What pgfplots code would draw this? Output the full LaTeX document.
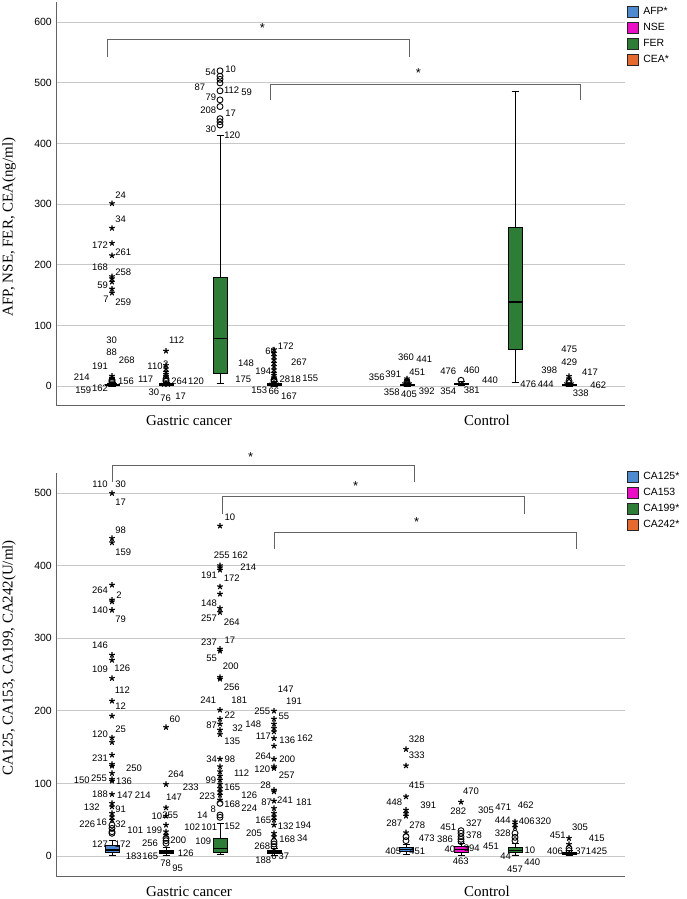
\documentclass[border=0pt]{standalone}
\usepackage{fontspec}
\setmainfont{Liberation Sans}
\newfontfamily\seriffont{Liberation Serif}
\usepackage{pgfplots}
\pgfplotsset{compat=1.18}
\usepgfplotslibrary{statistics}
\definecolor{afp}{RGB}{76,139,208}
\definecolor{nse}{RGB}{238,12,200}
\definecolor{fer}{RGB}{46,125,55}
\definecolor{cea}{RGB}{232,105,44}
\definecolor{axgray}{RGB}{100,100,100}
\definecolor{gridgray}{RGB}{200,200,200}
\pgfplotsset{
 panel/.style={scale only axis, width=569bp, height=403bp, xmin=56, xmax=625, clip=false,
   axis x line*=bottom, axis y line*=left, axis line style={axgray, line width=0.9pt},
   ymajorgrids, grid style={gridgray, line width=0.9pt}, major tick length=0pt,
   xtick={189,487}, xticklabels={Gastric cancer, Control},
   xticklabel style={font=\seriffont\fontsize{15}{18}\selectfont, inner sep=0pt, yshift=-10bp},
   yticklabel style={font=\fontsize{10.5}{12}\selectfont, inner sep=0pt, xshift=-4bp},
   /pgf/number format/assume math mode=true,
   legend cell align=left,
   legend style={draw=none, fill=none, inner sep=0pt, row sep=0pt, font=\fontsize{10.5}{12}\selectfont,
     nodes={inner sep=0pt, minimum height=16bp}, /tikz/every odd column/.append style={column sep=4.5bp}},
   boxplot/draw direction=y,
   boxplot/every median/.style={line width=1.4pt},
 },
 bx/.style={draw=black, line width=0.7pt, forget plot},
 st/.style={only marks, mark=star, mark size=2.9pt, mark options={line width=1.15pt, draw=black}, black, forget plot},
 ci/.style={only marks, mark=o, mark size=3pt, mark options={line width=0.9pt, draw=black, fill=white}, black, forget plot},
}
\tikzset{lab/.style={font=\fontsize{9.5}{11}\selectfont, inner sep=0pt},
 ast/.style={font=\fontsize{13}{14}\selectfont, inner sep=0pt, yshift=-3bp}}
\newcommand\LA[3]{\node[lab] at ({(#1/3)*1bp},{(899-#2/3)*1bp}) {#3};}
\newcommand\LB[3]{\node[lab] at ({(330+#1/3)*1bp},{(899-#2/3)*1bp}) {#3};}
\newcommand\LC[3]{\node[lab] at ({(#1/3)*1bp},{(479-#2/3)*1bp}) {#3};}
\newcommand\LD[3]{\node[lab] at ({(330+#1/3)*1bp},{(479-#2/3)*1bp}) {#3};}
\newcommand\BP[7]{\addplot[boxplot prepared={draw position=#1, lower whisker=#2, lower quartile=#3, median=#4, upper quartile=#5, upper whisker=#6, box extend=14, whisker extend=7}, bx, fill=#7] coordinates {};}
\begin{document}
\begin{tikzpicture}
\path[use as bounding box] (0,0) rectangle (687bp,899bp);
% ---------------- top panel
\begin{axis}[panel, at={(56bp,494bp)}, anchor=south west, ymin=-31.3, ymax=633.5, ytick={0,100,...,600},
  legend style={at={(1.0035,0.996)}, anchor=north west}]
\addlegendimage{legend image code/.code={\draw[fill=afp,draw=black!85,line width=0.6pt] (0bp,-5.5bp) rectangle (11bp,5.5bp);}}
\addlegendentry{AFP*}
\addlegendimage{legend image code/.code={\draw[fill=nse,draw=black!85,line width=0.6pt] (0bp,-5.5bp) rectangle (11bp,5.5bp);}}
\addlegendentry{NSE}
\addlegendimage{legend image code/.code={\draw[fill=fer,draw=black!85,line width=0.6pt] (0bp,-5.5bp) rectangle (11bp,5.5bp);}}
\addlegendentry{FER}
\addlegendimage{legend image code/.code={\draw[fill=cea,draw=black!85,line width=0.6pt] (0bp,-5.5bp) rectangle (11bp,5.5bp);}}
\addlegendentry{CEA*}
% gastric
\BP{112}{0}{1}{2}{3.5}{6}{afp}
\addplot[ci] coordinates {(112,10.5)(112,8.3)(112,6.6)};
\addplot[st] coordinates {(112,301.1)(112,260.4)(112,235.6)(112,215.2)(112,180.6)(112,177.2)(112,171.7)(112,160.2)(112,153.6)(112,16.5)(112,13.2)(112,4.5)(110,3)(114,3)};
\BP{166}{0.5}{1.5}{2.5}{4}{6}{nse}
\addplot[ci] coordinates {(166,12.1)(166,9.4)(166,7.7)};
\addplot[st] coordinates {(166,57.8)(166,34.1)(166,28.6)(166,23.1)(166,19.3)(166,16)(166,5)(164,3)(168,3)};
\BP{220}{4.4}{21}{78.6}{178.7}{414}{fer}
\addplot[ci] coordinates {(220,430.5)(220,436)(220,441)(220,461)(220,472)(220,487)(220,500)(220,506)(220,511)(220,520)};
\BP{274}{0}{1}{2.5}{4}{7}{cea}
\addplot[ci] coordinates {(274,10.5)(274,8.5)};
\addplot[st] coordinates {(274,60)(274,54.5)(274,49)(274,43.5)(274,38)(274,32.5)(274,27)(274,21.5)(274,17.6)(274,13.8)(274,6)(272,3.5)(276,3.5)};
% control
\BP{407}{0}{1}{2}{3}{5}{afp}
\addplot[ci] coordinates {(407,6.6)};
\addplot[st] coordinates {(407,12.1)(407,9.4)(405,4)(409,4)};
\BP{461}{0.5}{2}{3.5}{5}{7}{nse}
\addplot[ci] coordinates {(461,9.4)};
\BP{515}{5.5}{60}{138.7}{261}{486}{fer}
\BP{569}{0}{1}{2}{3}{5}{cea}
\addplot[ci] coordinates {(569,8.3)};
\addplot[st] coordinates {(569,16)(569,12.1)(567,4)(571,4)};
% brackets
\draw[axgray, line width=0.9pt] (axis cs:107.3,542.7) |- (axis cs:409.3,572.4) -- (axis cs:409.3,542.7);
\draw[axgray, line width=0.9pt] (axis cs:270,472) |- (axis cs:580.7,498) -- (axis cs:580.7,472);
\end{axis}
% ---------------- bottom panel
\begin{axis}[panel, at={(56bp,23bp)}, anchor=south west, ymin=-27.6, ymax=528, ytick={0,100,...,500},
  legend style={at={(1.0035,1.011)}, anchor=north west}]
\addlegendimage{legend image code/.code={\draw[fill=afp,draw=black!85,line width=0.6pt] (0bp,-5.5bp) rectangle (11bp,5.5bp);}}
\addlegendentry{CA125*}
\addlegendimage{legend image code/.code={\draw[fill=nse,draw=black!85,line width=0.6pt] (0bp,-5.5bp) rectangle (11bp,5.5bp);}}
\addlegendentry{CA153}
\addlegendimage{legend image code/.code={\draw[fill=fer,draw=black!85,line width=0.6pt] (0bp,-5.5bp) rectangle (11bp,5.5bp);}}
\addlegendentry{CA199*}
\addlegendimage{legend image code/.code={\draw[fill=cea,draw=black!85,line width=0.6pt] (0bp,-5.5bp) rectangle (11bp,5.5bp);}}
\addlegendentry{CA242*}
% gastric
\BP{112}{1.4}{4.5}{8.3}{15.2}{22}{afp}
\addplot[st] coordinates {(112,500)(112,438)(112,432)(112,373.6)(112,353)(112,350.6)(112,339)(112,277)(112,270)(112,245)(112,213.7)(112,193)(112,163)(112,156.7)(112,139.2)(112,126.4)(112,124.1)(112,114)(112,105.7)(112,103.4)(112,85)(112,72.6)(112,68)(112,58.8)(112,54.2)(112,49.6)};
\addplot[ci] coordinates {(112,42.7)(112,38.1)(112,33.5)(112,31.3)};
\BP{166}{1}{3.7}{5.5}{7.3}{12}{nse}
\addplot[st] coordinates {(166,177.4)(166,98.8)(166,66.6)(166,55.1)(166,42.7)(166,33.5)(166,29)};
\addplot[ci] coordinates {(166,24.4)(166,21.1)(166,17.5)};
\BP{220}{2.8}{5.1}{10.1}{23.8}{45}{fer}
\addplot[st] coordinates {(220,455)(220,400.3)(220,397.5)(220,394.3)(220,371.3)(220,361.2)(220,341.5)(220,335.9)(220,285.4)(220,282.6)(220,246.3)(220,244)(220,201.3)(220,188.9)(220,182)(220,173.7)(220,167.7)(220,133.7)(220,123.2)(220,116.3)(220,110.3)(220,104.8)(220,98.8)(220,93.3)(220,88.7)(220,84.1)(220,77.2)};
\addplot[ci] coordinates {(220,72.6)(220,56.5)(220,53.3)};
\BP{274}{1}{3.7}{5.5}{7.3}{10}{cea}
\addplot[st] coordinates {(274,199.9)(274,188.9)(274,182)(274,176)(274,171.4)(274,162.2)(274,151.7)(274,133.7)(274,123.2)(274,120.9)(274,91)(274,88.7)(274,75.8)(274,65.7)(274,58.8)(274,54.2)(274,49.6)(274,42.7)(274,31.3)(274,26.7)};
\addplot[ci] coordinates {(274,19.8)(274,16.5)(274,12.9)};
% control
\BP{406}{1.8}{6.9}{9.2}{11.5}{16}{afp}
\addplot[st] coordinates {(406,147.1)(406,124.5)(406,81.8)(406,63.4)(406,58.8)(406,55.1)(406,32.2)};
\addplot[ci] coordinates {(406,26.7)(406,21.1)};
\BP{461}{1}{4.5}{8.7}{12.8}{17}{nse}
\addplot[st] coordinates {(461,74.4)};
\addplot[ci] coordinates {(461,34.9)(461,31.3)(461,26.7)(461,23)(461,19.8)};
\BP{515}{1.4}{4.5}{7.8}{12}{17}{fer}
\addplot[st] coordinates {(515,47.3)(515,43.7)(515,39.5)};
\addplot[ci] coordinates {(515,31.3)(515,25.7)(515,21.1)};
\BP{569}{0.5}{1.8}{3.5}{5.5}{8}{cea}
\addplot[st] coordinates {(569,24.4)(569,16.1)};
\addplot[ci] coordinates {(569,10.6)(569,7.4)};
% brackets
\draw[axgray, line width=0.9pt] (axis cs:112,515.6) |- (axis cs:414.3,539) -- (axis cs:414.3,515.6);
\draw[axgray, line width=0.9pt] (axis cs:222.3,471.5) |- (axis cs:524.3,495) -- (axis cs:524.3,471.5);
\draw[axgray, line width=0.9pt] (axis cs:274.3,423) |- (axis cs:576.7,446.6) -- (axis cs:576.7,423);
\end{axis}
% ---------------- axis titles
\node[rotate=90, font=\seriffont\fontsize{15}{18}\selectfont, inner sep=0pt] at (9bp,672bp) {AFP, NSE, FER, CEA(ng/ml)};
\node[rotate=90, font=\seriffont\fontsize{15}{18}\selectfont, inner sep=0pt] at (9bp,241bp) {CA125, CA153, CA199, CA242(U/ml)};
% significance stars
\node[ast] at ({(787/3)*1bp},{(899-75/3)*1bp}) {*};
\node[ast] at ({(330+265/3)*1bp},{(899-210/3)*1bp}) {*};
\node[ast] at ({(752/3)*1bp},{(479-103/3)*1bp}) {*};
\node[ast] at ({(330+77/3)*1bp},{(479-190/3)*1bp}) {*};
\node[ast] at ({(330+260/3)*1bp},{(479-298/3)*1bp}) {*};
% ---------------- case labels, top
\LA{362}{585}{24} \LA{362}{657}{34} \LA{300}{737}{172} \LA{370}{757}{261} \LA{300}{803}{168} \LA{370}{818}{258} \LA{308}{857}{59} \LA{318}{897}{7} \LA{370}{908}{259}
\LA{335}{1020}{30} \LA{335}{1058}{88} \LA{380}{1080}{268} \LA{300}{1098}{191} \LA{245}{1133}{214} \LA{378}{1143}{156} \LA{250}{1170}{159} \LA{300}{1165}{162}
\LA{530}{1020}{112} \LA{497}{1093}{2} \LA{465}{1100}{110} \LA{437}{1138}{117} \LA{538}{1143}{264} \LA{588}{1143}{120} \LA{462}{1178}{30} \LA{497}{1195}{76} \LA{542}{1190}{17}
\LA{632}{218}{54} \LA{692}{208}{10} \LA{600}{262}{87} \LA{695}{270}{112} \LA{740}{276}{59} \LA{633}{293}{79} \LA{625}{332}{208} \LA{692}{340}{17} \LA{633}{388}{30} \LA{697}{405}{120}
\LA{812}{1054}{60} \LA{857}{1038}{172} \LA{738}{1090}{148} \LA{897}{1087}{267} \LA{790}{1115}{194} \LA{855}{1137}{28} \LA{887}{1137}{18} \LA{931}{1135}{155} \LA{730}{1138}{175} \LA{778}{1170}{153} \LA{822}{1173}{66} \LA{867}{1190}{167}
\LB{228}{1072}{360} \LB{283}{1077}{441} \LB{140}{1133}{356} \LB{190}{1123}{391} \LB{262}{1117}{451} \LB{185}{1178}{358} \LB{237}{1183}{405} \LB{290}{1173}{392}
\LB{355}{1115}{476} \LB{425}{1112}{460} \LB{480}{1140}{440} \LB{355}{1175}{354} \LB{425}{1172}{381}
\LB{595}{1153}{476} \LB{647}{1153}{444}
\LB{718}{1048}{475} \LB{718}{1087}{429} \LB{658}{1112}{398} \LB{780}{1117}{417} \LB{805}{1157}{462} \LB{752}{1180}{338}
% ---------------- case labels, bottom
\LC{300}{193}{110} \LC{362}{193}{30} \LC{362}{247}{17} \LC{362}{330}{98} \LC{370}{398}{159} \LC{300}{512}{264} \LC{357}{525}{2} \LC{300}{571}{140} \LC{362}{598}{79} \LC{300}{677}{146} \LC{300}{749}{109} \LC{367}{744}{126} \LC{367}{812}{112} \LC{362}{860}{12} \LC{300}{942}{120} \LC{362}{929}{25} \LC{300}{1016}{231} \LC{402}{1046}{250} \LC{245}{1081}{150} \LC{297}{1076}{255} \LC{372}{1085}{136} \LC{300}{1123}{188} \LC{375}{1125}{147} \LC{428}{1125}{214} \LC{275}{1163}{132} \LC{362}{1168}{91} \LC{262}{1212}{226} \LC{305}{1208}{16} \LC{362}{1213}{32} \LC{406}{1232}{101} \LC{300}{1273}{127} \LC{368}{1273}{172}
\LC{525}{898}{60} \LC{528}{1063}{264} \LC{572}{1102}{233} \LC{522}{1133}{147} \LC{471}{1190}{10} \LC{511}{1185}{255} \LC{463}{1232}{199} \LC{535}{1260}{200} \LC{450}{1270}{256} \LC{401}{1310}{183} \LC{451}{1310}{165} \LC{557}{1300}{126} \LC{497}{1330}{78} \LC{533}{1345}{95}
\LC{690}{292}{10} \LC{665}{405}{255} \LC{720}{405}{162} \LC{745}{443}{214} \LC{627}{466}{191} \LC{695}{476}{172} \LC{627}{550}{148} \LC{627}{595}{257} \LC{695}{607}{264} \LC{627}{667}{237} \LC{690}{660}{17} \LC{635}{715}{55} \LC{692}{740}{200} \LC{695}{803}{256} \LC{625}{842}{241} \LC{718}{842}{181} \LC{690}{887}{22} \LC{635}{915}{87} \LC{713}{925}{32} \LC{760}{913}{148} \LC{697}{963}{135} \LC{635}{1017}{34} \LC{690}{1017}{98} \LC{725}{1060}{112} \LC{633}{1081}{99} \LC{697}{1102}{165} \LC{622}{1130}{223} \LC{748}{1127}{126} \LC{640}{1167}{8} \LC{697}{1153}{168} \LC{748}{1166}{224} \LC{607}{1186}{14} \LC{577}{1222}{102} \LC{628}{1222}{101} \LC{697}{1220}{152} \LC{610}{1265}{109}
\LC{857}{808}{147} \LC{882}{845}{191} \LC{787}{873}{255} \LC{852}{890}{55} \LC{790}{950}{117} \LC{862}{960}{136} \LC{915}{955}{162} \LC{790}{1010}{264} \LC{862}{1017}{200} \LC{787}{1048}{120} \LC{860}{1066}{257} \LC{797}{1097}{28} \LC{800}{1146}{87} \LC{855}{1140}{241} \LC{912}{1146}{181} \LC{790}{1200}{165} \LC{857}{1220}{132} \LC{910}{1216}{194} \LC{762}{1241}{205} \LC{862}{1258}{168} \LC{907}{1255}{34} \LC{787}{1280}{268} \LC{790}{1320}{188} \LC{822}{1310}{6} \LC{852}{1308}{37}
\LD{260}{957}{328} \LD{260}{1006}{333} \LD{260}{1097}{415} \LD{193}{1146}{448} \LD{295}{1156}{391} \LD{193}{1210}{287} \LD{262}{1216}{278} \LD{290}{1255}{473} \LD{345}{1258}{386} \LD{190}{1295}{405} \LD{262}{1293}{451}
\LD{423}{1113}{470} \LD{385}{1173}{282} \LD{355}{1222}{451} \LD{432}{1210}{327} \LD{432}{1247}{378} \LD{360}{1287}{40} \LD{425}{1285}{394} \LD{483}{1278}{451} \LD{392}{1325}{463}
\LD{468}{1172}{305} \LD{520}{1163}{471} \LD{587}{1157}{462} \LD{518}{1202}{444} \LD{590}{1205}{406} \LD{640}{1205}{320} \LD{518}{1240}{328} \LD{600}{1290}{10} \LD{527}{1310}{44} \LD{555}{1348}{457} \LD{607}{1328}{440}
\LD{750}{1223}{305} \LD{683}{1247}{451} \LD{800}{1255}{415} \LD{675}{1293}{406} \LD{760}{1293}{371} \LD{808}{1293}{425}
\end{tikzpicture}
\end{document}
